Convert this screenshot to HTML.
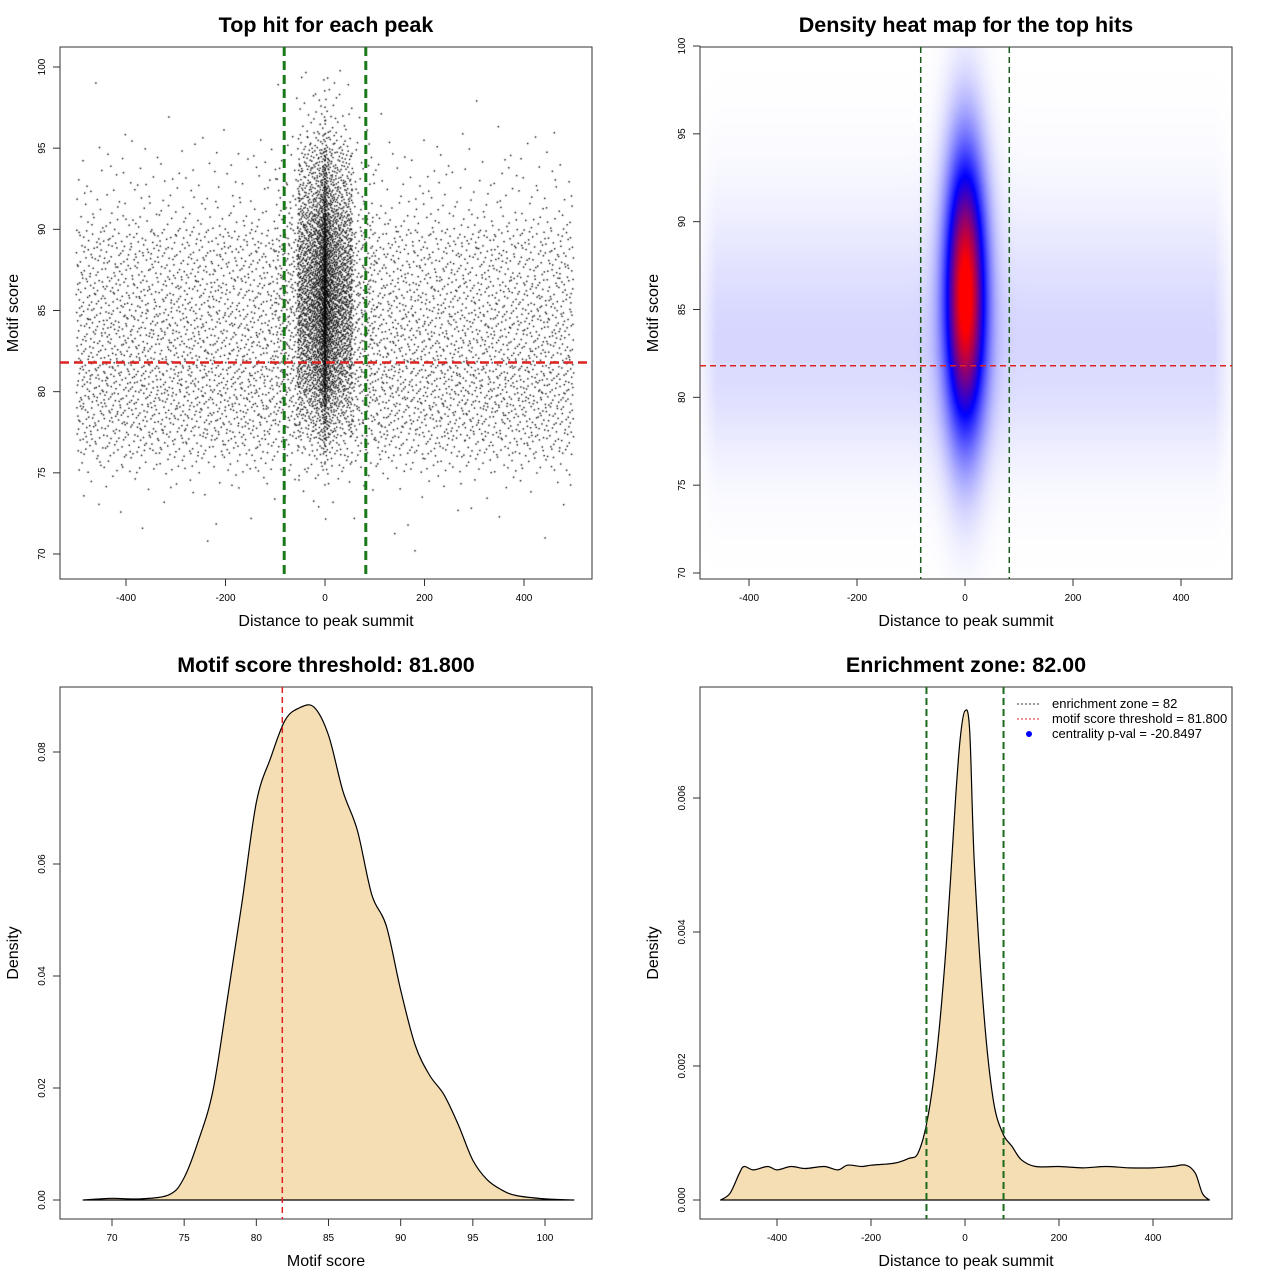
<!DOCTYPE html>
<html><head><meta charset="utf-8"><style>
body{margin:0;background:#fff;width:1280px;height:1280px;overflow:hidden;font-family:"Liberation Sans",sans-serif}
#wrap{position:relative;width:1280px;height:1280px}
canvas{position:absolute}
svg{position:absolute;left:0;top:0}
</style></head><body>
<div id="wrap">
<canvas id="scat" width="532" height="532" style="left:60px;top:47px"></canvas>
<canvas id="heat" width="532" height="532" style="left:700px;top:47px"></canvas>
<svg id="s" width="1280" height="1280"></svg>
</div>
<script>
// ---- Scatter data (binned counts) ----
const scatXEdges=[-500,-450,-400,-350,-300,-250,-200,-150,-100,-50,0,50,100,150,200,250,300,350,400,450,500];
const scatXCounts=[230,240,240,240,240,240,240,250,330,1900,1900,330,250,240,240,240,240,240,240,230];
const scatScores=[70,71,72,73,74,75,76,77,78,79,80,81,82,83,84,85,86,87,88,89,90,91,92,93,94,95,96,97,98,99];
const outerWeights=[0.1,0.1,0.2,0.4,1,3,6,8,9,10,10,10,9,9,9,8,8,7,7,6,3,2,1.5,1.2,0.8,0.4,0.1,0.1,0.05,0.02];
const centerWeights=[0,0,0.05,0.1,0.3,0.8,1.5,3,4,6,8,9,10,11,12,12,12,11,10,9,8,6,5,4,3,1.5,0.8,0.5,0.3,0.2];
// ---- Heatmap mixture ----
const heatCompX=[0];
const heatCompY=[86];
const heatCompSX=[26];
const heatCompSY=[5.5];
const heatCompW=[1];
const heatBgY=82, heatBgSY=4, heatBgW=0.07;
// ---- Score density ----
const scoreX=[68,70,72,74,75,76,77,78,79,80,81,82,83,84,85,86,87,88,89,90,91,92,93,94,95,96,97,98,100,102];
const scoreD=[0,0.0003,0.0002,0.001,0.004,0.0107,0.0196,0.036,0.053,0.071,0.079,0.0857,0.0879,0.088,0.083,0.073,0.066,0.0545,0.049,0.0375,0.0277,0.0223,0.0188,0.0134,0.0071,0.0036,0.0018,0.0008,0.0002,0];
// ---- Distance density ----
const distX=[-520,-500,-480,-470,-450,-420,-400,-370,-340,-300,-270,-250,-220,-200,-150,-120,-100,-80,-60,-40,-20,-10,0,10,20,40,60,80,100,120,150,200,250,300,350,400,440,470,490,505,520];
const distD=[0,0.0001,0.0004,0.0005,0.00045,0.0005,0.00045,0.0005,0.00047,0.0005,0.00045,0.00052,0.0005,0.00052,0.00055,0.00062,0.0007,0.0012,0.0022,0.0038,0.006,0.0069,0.0073,0.007,0.005,0.0028,0.0015,0.001,0.0008,0.0006,0.0005,0.0005,0.00048,0.0005,0.00048,0.00048,0.0005,0.00052,0.0004,0.0001,0];

const NS="http://www.w3.org/2000/svg";
const svg=document.getElementById('s');
function el(tag,attrs,parent){const e=document.createElementNS(NS,tag);for(const k in attrs)e.setAttribute(k,attrs[k]);(parent||svg).appendChild(e);return e;}
function txt(x,y,s,size,opts,name){const t=el('text',Object.assign({x:x,y:y,'font-size':size,'text-anchor':'middle','font-family':'Liberation Sans, sans-serif'},opts||{}));t.textContent=s;


return t;}
function lin(d0,d1,p0,p1){return v=>p0+(v-d0)*(p1-p0)/(d1-d0);}
function smoothPath(pts){let d='';for(let i=0;i<pts.length-1;i++){const p0=pts[Math.max(0,i-1)],p1=pts[i],p2=pts[i+1],p3=pts[Math.min(pts.length-1,i+2)];
 const c1x=p1[0]+(p2[0]-p0[0])/6,c1y=p1[1]+(p2[1]-p0[1])/6,c2x=p2[0]-(p3[0]-p1[0])/6,c2y=p2[1]-(p3[1]-p1[1])/6;
 d+=` C${c1x},${c1y} ${c2x},${c2y} ${p2[0]},${p2[1]}`;}return d;}

function panel(box,title,xlab,ylab,xs,ys,xt,yt,yfmt,pname){
  const g=el('g',{});
  
  
  const r=el('rect',{x:box.x,y:box.y,width:box.w,height:box.h,fill:'none',stroke:'#333','stroke-width':1},g);
  
  
  txt(box.x+box.w/2,box.y-15,title,21.5,{'font-weight':'bold'},'chart-title');
  txt(box.x+box.w/2,box.y+box.h+47,xlab,16,{},'x-axis-title');
  txt(0,0,ylab,16,{transform:`translate(${box.x-42},${box.y+box.h/2}) rotate(-90)`},'y-axis-title');
  const by=box.y+box.h;
  const xa=el('line',{x1:xs(xt[0]),x2:xs(xt[xt.length-1]),y1:by,y2:by,stroke:'#333'},g);
  
  
  xt.forEach(v=>{const X=xs(v);el('line',{x1:X,x2:X,y1:by,y2:by+7,stroke:'#333'},g);txt(X,by+22,String(v),10,{},'x-tick-label');});
  const ya=el('line',{x1:box.x,x2:box.x,y1:ys(yt[0]),y2:ys(yt[yt.length-1]),stroke:'#333'},g);
  
  
  yt.forEach(v=>{const Y=ys(v);el('line',{x1:box.x,x2:box.x-7,y1:Y,y2:Y,stroke:'#333'},g);txt(0,0,yfmt(v),10,{transform:`translate(${box.x-15},${Y}) rotate(-90)`},'y-tick-label');});
}
function vline(x,y1,y2,color,w,dash,name){const l=el('line',{x1:x,x2:x,y1:y1,y2:y2,stroke:color,'stroke-width':w,'stroke-dasharray':dash});}
function hline(y,x1,x2,color,w,dash,name){const l=el('line',{x1:x1,x2:x2,y1:y,y2:y,stroke:color,'stroke-width':w,'stroke-dasharray':dash});}
function halton(i,b){let f=1,r=0;while(i>0){f/=b;r+=f*(i%b);i=Math.floor(i/b);}return r;}
function invcdf(w,u){const tot=w.reduce((a,b)=>a+b,0);let acc=0;for(let i=0;i<w.length;i++){acc+=w[i]/tot;if(u<=acc){const lo=acc-w[i]/tot;return scatScores[i]+(w[i]?(u-lo)/(w[i]/tot):0);}}return scatScores[w.length-1]+1;}

// ===== Panel 1 =====
{const box={x:60,y:47,w:532,h:532};const xs=lin(0,400,325,524),ys=lin(100,70,67,554);
panel(box,'Top hit for each peak','Distance to peak summit','Motif score',xs,ys,[-400,-200,0,200,400],[70,75,80,85,90,95,100],v=>String(v),'scatter-panel');
const c=document.getElementById('scat').getContext('2d');c.fillStyle='#000';
const total=scatXCounts.reduce((a,b)=>a+b,0);const cum=[0];scatXCounts.forEach(n=>cum.push(cum[cum.length-1]+n));
const mixW=outerWeights.map((o,i)=>o*0.6+centerWeights[i]*0.4);
for(let i=1;i<=total;i++){const u=halton(i,2)*total;let b=0;while(b<scatXCounts.length-1&&u>cum[b+1])b++;
 const f=(u-cum[b])/scatXCounts[b];const x0=scatXEdges[b],x1=scatXEdges[b+1];const mid=Math.abs(x0+x1)/2;let xv;
 if(mid<50){xv=(x0<0?-1:1)*55*Math.pow(x0<0?1-f:f,1.6);}else xv=x0+(x1-x0)*f;
 const w=mid<50?centerWeights:(mid<100?mixW:outerWeights);
 const yv=invcdf(w,halton(i,3));c.fillRect(xs(xv)-60-0.7,ys(yv)-47-0.7,1.4,1.4);}
vline(xs(-82),47,579,'#1a7a1a',3,'9,5','enrichment-left-line');vline(xs(82),47,579,'#1a7a1a',3,'9,5','enrichment-right-line');
hline(ys(81.8),60,592,'#dd2222',2.5,'9,5','threshold-line');}

// ===== Panel 2 =====
{const box={x:700,y:47,w:532,h:532};const xs=lin(0,400,965,1181),ys=lin(100,70,46,573);
const c=document.getElementById('heat').getContext('2d');const im=c.createImageData(532,532);
for(let py=0;py<532;py++){const yv=100-(py+47-46)/(527/30);for(let px=0;px<532;px++){const xv=(px+700-965)/(216/400);
 let d=0;for(let i=0;i<heatCompX.length;i++)d+=heatCompW[i]*Math.exp(-((xv-heatCompX[i])**2)/(2*heatCompSX[i]**2)-((yv-heatCompY[i])**2)/(2*heatCompSY[i]**2));
 const edge=Math.min(1,Math.max(0,(500-Math.abs(xv))/40));d+=heatBgW*edge*Math.exp(-((yv-heatBgY)**2)/(2*heatBgSY**2));
 if(yv>82)d+=heatBgW*0.4*edge*Math.exp(-((yv-88)**2)/(2*16));
 const t=Math.min(1,d);let r,g,b;if(t<0.5){const s=t/0.5;r=255*(1-s);g=255*(1-s);b=255;}else{const s=(t-0.5)/0.5;r=255*s;g=0;b=255*(1-s);}
 const o=(py*532+px)*4;im.data[o]=r;im.data[o+1]=g;im.data[o+2]=b;im.data[o+3]=255;}}
c.putImageData(im,0,0);
panel(box,'Density heat map for the top hits','Distance to peak summit','Motif score',xs,ys,[-400,-200,0,200,400],[70,75,80,85,90,95,100],v=>String(v),'heatmap-panel');
vline(xs(-82),47,579,'#1a5a1a',1.5,'6,4','enrichment-left-line');vline(xs(82),47,579,'#1a5a1a',1.5,'6,4','enrichment-right-line');
hline(ys(81.8),700,1232,'#dd2222',1.5,'6,4','threshold-line');}

// ===== Panel 3 =====
{const box={x:60,y:687,w:532,h:532};const xs=lin(70,100,112,545),ys=lin(0,0.08,1200,752);
const pts=scoreX.map((v,i)=>[xs(v),ys(scoreD[i])]);
const d='M'+pts[0][0]+','+pts[0][1]+smoothPath(pts)+' Z';
const p=el('path',{d:d,fill:'#F5DEB3',stroke:'#000','stroke-width':1.2,'stroke-linejoin':'round'});
panel(box,'Motif score threshold: 81.800','Motif score','Density',xs,ys,[70,75,80,85,90,95,100],[0,0.02,0.04,0.06,0.08],v=>v.toFixed(2),'score-density-panel');
vline(xs(81.8),687,1219,'#dd2222',1.5,'6,4','threshold-line');}

// ===== Panel 4 =====
{const box={x:700,y:687,w:532,h:532};const xs=lin(0,400,965,1153),ys=lin(0,0.006,1200,798);
const pts=distX.map((v,i)=>[xs(v),ys(distD[i])]);
const d='M'+pts[0][0]+','+pts[0][1]+smoothPath(pts)+' Z';
const p=el('path',{d:d,fill:'#F5DEB3',stroke:'#000','stroke-width':1.2,'stroke-linejoin':'round'});
panel(box,'Enrichment zone: 82.00','Distance to peak summit','Density',xs,ys,[-400,-200,0,200,400],[0,0.002,0.004,0.006],v=>v.toFixed(3),'distance-density-panel');
vline(xs(-82),687,1219,'#1a6a1a',2,'7,4','enrichment-left-line');vline(xs(82),687,1219,'#1a6a1a',2,'7,4','enrichment-right-line');
const lg=el('g',{});
el('line',{x1:1017,x2:1041,y1:704,y2:704,stroke:'#333','stroke-dasharray':'2,2'},lg);
el('line',{x1:1017,x2:1041,y1:719,y2:719,stroke:'#dd2222','stroke-dasharray':'2,2'},lg);
el('circle',{cx:1029,cy:734,r:3,fill:'#0000ff'},lg);
txt(1052,708,'enrichment zone = 82',13,{'text-anchor':'start'},'legend-entry');
txt(1052,723,'motif score threshold = 81.800',13,{'text-anchor':'start'},'legend-entry');
txt(1052,738,'centrality p-val = -20.8497',13,{'text-anchor':'start'},'legend-entry');}
</script>
</body></html>
